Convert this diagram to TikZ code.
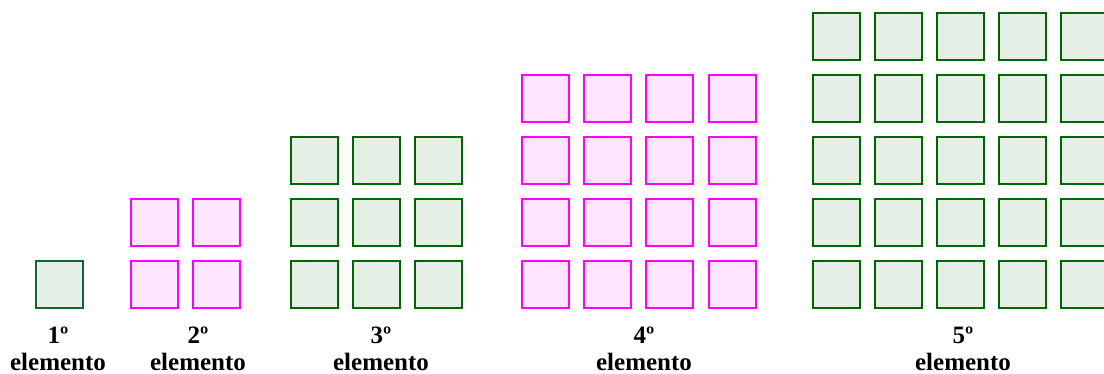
\documentclass[tikz,border=0pt]{standalone}
\usepackage{fontspec}
\setmainfont{Liberation Serif}
\definecolor{gline}{RGB}{0,102,0}
\definecolor{gfirst}{RGB}{20,100,55}
\definecolor{gfill}{RGB}{229,239,229}
\definecolor{pline}{RGB}{255,0,255}
\definecolor{pfill}{RGB}{255,229,255}
\tikzset{
  sq/.style={rectangle, minimum size=47pt, inner sep=0pt, line width=2pt},
  gsq/.style={sq, draw=gline, fill=gfill},
  fsq/.style={sq, draw=gfirst, fill=gfill},
  psq/.style={sq, draw=pline, fill=pfill},
  lbl/.style={font=\bfseries\fontsize{25}{28}\selectfont, anchor=base, inner sep=0pt, text depth=0pt}
}
\begin{document}
\begin{tikzpicture}[x=1pt,y=-1pt]
\useasboundingbox (0,0) rectangle (1104,374);
% element 1
\node[fsq] (e1r1c1) at (59.5,284.5) {};
% element 2
\foreach \c/\L in {1/130,2/192}
  \foreach \r/\T in {1/198,2/260}
    \node[psq] (e2r\r c\c) at (\L+24.5,\T+24.5) {};
% element 3
\foreach \c/\L in {1/290,2/352,3/414}
  \foreach \r/\T in {1/136,2/198,3/260}
    \node[gsq] (e3r\r c\c) at (\L+24.5,\T+24.5) {};
% element 4
\foreach \c/\L in {1/521,2/583,3/645,4/708}
  \foreach \r/\T in {1/74,2/136,3/198,4/260}
    \node[psq] (e4r\r c\c) at (\L+24.5,\T+24.5) {};
% element 5
\foreach \c/\L in {1/812,2/874,3/936,4/998,5/1060}
  \foreach \r/\T in {1/12,2/74,3/136,4/198,5/260}
    \node[gsq] (e5r\r c\c) at (\L+24.5,\T+24.5) {};
% labels
\foreach \i/\x in {1/58,2/198,3/381,4/644,5/963} {
  \node[lbl] (n\i) at (\x,343) {\i º};
  \node[lbl] (t\i) at (\x,370.5) {elemento};
}
\end{tikzpicture}
\end{document}
